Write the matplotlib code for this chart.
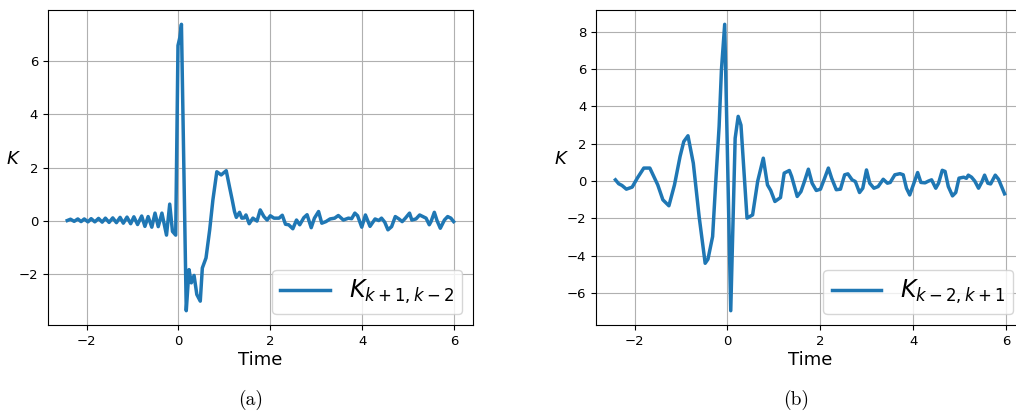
import matplotlib
matplotlib.use("Agg")
import matplotlib.pyplot as plt

# (a) K_{k+1,k-2}
t_a = [-2.42, -2.35, -2.27, -2.19, -2.12, -2.05, -1.97, -1.90, -1.82, -1.74,
       -1.66, -1.59, -1.51, -1.43, -1.35, -1.27, -1.20, -1.12, -1.04, -0.97,
       -0.89, -0.80, -0.73, -0.66, -0.58, -0.51, -0.44, -0.36, -0.26, -0.19,
       -0.13, -0.06, -0.01, 0.03, 0.065, 0.17, 0.23, 0.28, 0.34, 0.40,
       0.475, 0.52, 0.60, 0.68, 0.75, 0.835, 0.93, 1.04, 1.11, 1.17,
       1.22, 1.26, 1.33, 1.38, 1.43, 1.47, 1.54, 1.62, 1.71, 1.78,
       1.86, 1.93, 2.00, 2.08, 2.19, 2.26, 2.33, 2.40, 2.49, 2.57,
       2.64, 2.73, 2.80, 2.89, 2.96, 3.05, 3.12, 3.21, 3.30, 3.40,
       3.48, 3.59, 3.70, 3.77, 3.84, 3.90, 3.99, 4.07, 4.17, 4.28,
       4.36, 4.42, 4.49, 4.56, 4.64, 4.72, 4.80, 4.87, 4.94, 5.03,
       5.08, 5.17, 5.25, 5.32, 5.39, 5.46, 5.50, 5.57, 5.63, 5.70,
       5.79, 5.86, 5.93, 5.99]
k_a = [0.00, 0.05, -0.03, 0.06, -0.04, 0.06, -0.05, 0.07, -0.05, 0.08,
       -0.06, 0.09, -0.07, 0.10, -0.08, 0.12, -0.10, 0.13, -0.12, 0.14,
       -0.15, 0.17, -0.22, 0.15, -0.25, 0.28, -0.23, 0.28, -0.55, 0.62,
       -0.41, -0.55, 6.6, 6.9, 7.4, -3.4, -1.85, -2.35, -2.07, -2.79,
       -3.04, -1.79, -1.41, -0.35, 0.78, 1.84, 1.72, 1.88, 1.28, 0.78,
       0.34, 0.12, 0.31, 0.09, 0.10, 0.21, -0.12, 0.09, -0.02, 0.40,
       0.15, 0.02, 0.18, 0.09, 0.09, 0.20, -0.14, -0.16, -0.31, 0.02,
       -0.16, 0.11, 0.22, -0.27, 0.09, 0.34, -0.10, -0.04, 0.06, 0.09,
       0.19, 0.02, 0.09, 0.07, 0.28, 0.18, -0.25, 0.21, -0.22, 0.06,
       0.00, 0.09, -0.06, -0.35, -0.23, 0.15, 0.06, -0.04, 0.09, 0.28,
       0.02, 0.06, 0.21, 0.15, 0.09, -0.16, -0.03, 0.31, -0.01, -0.29,
       0.02, 0.15, 0.09, -0.04]

# (b) K_{k-2,k+1}
t_b = [-2.41, -2.34, -2.27, -2.175, -2.05, -1.94, -1.80, -1.67, -1.585, -1.50,
       -1.39, -1.26, -1.14, -1.02, -0.94, -0.85, -0.735, -0.61, -0.48, -0.42,
       -0.32, -0.25, -0.18, -0.13, -0.06, 0.07, 0.165, 0.23, 0.29, 0.42,
       0.54, 0.65, 0.77, 0.86, 0.93, 1.02, 1.14, 1.22, 1.33, 1.38,
       1.50, 1.58, 1.655, 1.74, 1.82, 1.91, 2.00, 2.09, 2.17, 2.24,
       2.34, 2.43, 2.52, 2.59, 2.68, 2.75, 2.84, 2.91, 2.99, 3.06,
       3.15, 3.24, 3.35, 3.44, 3.50, 3.60, 3.71, 3.78, 3.85, 3.92,
       4.01, 4.09, 4.16, 4.25, 4.32, 4.39, 4.48, 4.54, 4.62, 4.68,
       4.75, 4.84, 4.91, 4.98, 5.08, 5.14, 5.18, 5.25, 5.32, 5.40,
       5.47, 5.53, 5.60, 5.66, 5.76, 5.83, 5.96]
k_b = [0.07, -0.14, -0.23, -0.43, -0.32, 0.16, 0.70, 0.70, 0.25, -0.20,
       -1.00, -1.32, -0.20, 1.32, 2.12, 2.43, 0.96, -1.90, -4.40, -4.18,
       -2.97, 0.07, 2.93, 5.97, 8.40, -6.94, 2.30, 3.47, 3.00, -1.98,
       -1.81, 0.00, 1.23, -0.20, -0.50, -1.09, -0.88, 0.43, 0.57, 0.25,
       -0.82, -0.56, -0.02, 0.64, -0.11, -0.50, -0.43, 0.16, 0.70, 0.16,
       -0.46, -0.43, 0.34, 0.39, 0.07, -0.02, -0.61, -0.38, 0.60, -0.11,
       -0.38, -0.29, 0.10, -0.11, -0.07, 0.34, 0.40, 0.34, -0.38, -0.74,
       -0.11, 0.46, -0.07, -0.09, 0.00, 0.07, -0.38, -0.11, 0.58, 0.52,
       -0.29, -0.79, -0.61, 0.16, 0.21, 0.15, 0.32, 0.21, 0.00, -0.38,
       -0.05, 0.32, -0.11, -0.15, 0.32, 0.10, -0.68]

panels = [
    (t_a, k_a, r"$K_{k+1,k-2}$", [-2, 0, 2, 4, 6], "(a)"),
    (t_b, k_b, r"$K_{k-2,k+1}$", [-6, -4, -2, 0, 2, 4, 6, 8], "(b)"),
]
xticks = [-2, 0, 2, 4, 6]

fig = plt.figure(figsize=(10.16, 4.17), dpi=100)
rects = [[0.0472, 0.2206, 0.4183, 0.7554], [0.5866, 0.2206, 0.4213, 0.7554]]

for rect, (t, k, lab, yt, cap) in zip(rects, panels):
    ax = fig.add_axes(rect)
    ax.plot(t, k, color="#1f77b4", lw=2.5, label=lab)
    ax.set_xticks(xticks)
    ax.set_yticks(yt)
    ax.tick_params(labelsize=9.5)
    ax.grid(True)
    ax.set_xlabel("Time", fontsize=13, labelpad=2)
    ax.set_ylabel("$K$", fontsize=13, rotation=0)
    ax.legend(loc="lower right", fontsize=17, handlelength=2.1,
              borderpad=0.35, borderaxespad=0.45)
    cx = rect[0] + 0.5 * min(rect[2], 1 - rect[0]) - 0.01
    fig.text(cx, 0.04, cap, family="cmr10", fontsize=14, ha="center", va="center")

fig.savefig("out.png", dpi=100)
